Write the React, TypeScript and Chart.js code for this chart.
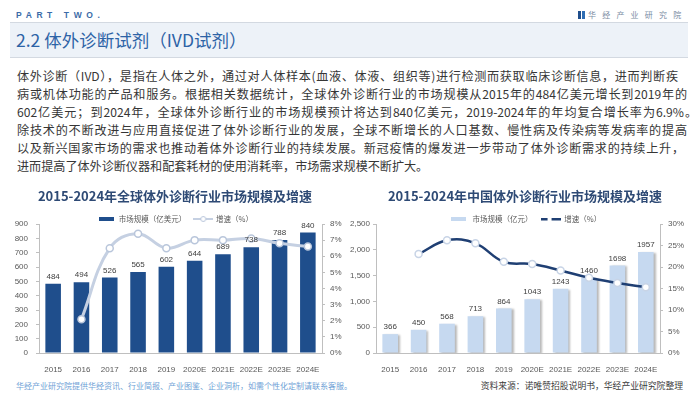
import React, { useEffect, useRef } from "react";
import { Chart, registerables } from "chart.js";

Chart.register(...registerables);

// ---------- data ----------
const categories = ["2015", "2016", "2017", "2018", "2019", "2020E", "2021E", "2022E", "2023E", "2024E"];
const globalMarket = [484, 494, 526, 565, 602, 644, 689, 738, 788, 840];
const globalGrowth = [null, 2.1, 6.5, 7.4, 6.5, 7.0, 7.0, 7.1, 6.8, 6.6];
const chinaMarket = [366, 450, 568, 713, 864, 1043, 1243, 1460, 1698, 1957];
const chinaGrowth = [null, 23.0, 26.2, 25.5, 21.2, 20.7, 19.2, 17.5, 16.3, 15.3];

const globalTitle = "2015-2024年全球体外诊断行业市场规模及增速";
const chinaTitle = "2015-2024年中国体外诊断行业市场规模及增速";
const globalLegend = ["市场规模（亿美元）", "增速（%）"];
const chinaLegend = ["市场规模（亿元）", "增速（%）"];

const paragraphLines = [
  "体外诊断（IVD），是指在人体之外，通过对人体样本(血液、体液、组织等)进行检测而获取临床诊断信息，进而判断疾",
  "病或机体功能的产品和服务。根据相关数据统计，全球体外诊断行业的市场规模从2015年的484亿美元增长到2019年的",
  "602亿美元；到2024年，全球体外诊断行业的市场规模预计将达到840亿美元，2019-2024年的年均复合增长率为6.9%。",
  "除技术的不断改进与应用直接促进了体外诊断行业的发展，全球不断增长的人口基数、慢性病及传染病等发病率的提高",
  "以及新兴国家市场的需求也推动着体外诊断行业的持续发展。新冠疫情的爆发进一步带动了体外诊断需求的持续上升，",
  "进而提高了体外诊断仪器和配套耗材的使用消耗率，市场需求规模不断扩大。",
];
const lineWidths = [661, 670, 680, 670, 667, 0];

const CJK = '"Noto Sans CJK SC", "Noto Sans", sans-serif';
const LAT = '"Liberation Sans", Arial, sans-serif';

const DARK_BAR = "#1f4e8c";
const LIGHT_BAR = "#c6d9f0";
const LIGHT_LINE = "#c5d0e2";
const DARK_LINE = "#1f3f73";

function swatch(w: number, h: number, draw: (c: CanvasRenderingContext2D) => void) {
  const c = document.createElement("canvas");
  c.width = w;
  c.height = h;
  const ctx = c.getContext("2d")!;
  draw(ctx);
  return c;
}

const barLabels = {
  id: "barLabels",
  afterDatasetsDraw(chart: any) {
    const ctx = chart.ctx;
    const meta = chart.getDatasetMeta(0);
    const data = chart.data.datasets[0].data;
    ctx.save();
    ctx.font = `8px ${LAT}`;
    ctx.fillStyle = "#404040";
    ctx.textAlign = "center";
    ctx.textBaseline = "middle";
    meta.data.forEach((el: any, i: number) => {
      ctx.fillText(String(data[i]), el.x, el.y - 7);
    });
    ctx.restore();
  },
};

const barShadow = {
  id: "barShadow",
  beforeDatasetDraw(chart: any, args: any) {
    if (args.index === 0) {
      const c = chart.ctx;
      c.save();
      c.shadowColor = "rgba(0,0,0,0.28)";
      c.shadowOffsetX = 2;
      c.shadowOffsetY = 1;
      c.shadowBlur = 2;
    }
  },
  afterDatasetDraw(chart: any, args: any) {
    if (args.index === 0) chart.ctx.restore();
  },
};

function axisCommon(width: number, tickLen: number, pad: number) {
  return {
    grid: { drawOnChartArea: false, drawTicks: true, tickLength: tickLen, color: "#bfbfbf" },
    border: { display: true, color: "#bfbfbf" },
    afterFit: (s: any) => {
      s.width = width;
    },
    ticks: { font: { family: LAT, size: 8 }, color: "#595959", padding: pad },
  };
}

function makeChart(
  canvas: HTMLCanvasElement,
  cfg: {
    title: string;
    legend: string[];
    bars: number[];
    growth: (number | null)[];
    barColor: string;
    lineColor: string;
    lineWidth: number;
    pointBorder: string;
    legendLine: HTMLCanvasElement;
    legendBar: HTMLCanvasElement;
    legendBoxWidth: number;
    yMax: number;
    yStep: number;
    y1Max: number;
    y1Step: number;
    leftW: number;
    rightW: number;
    leftTick: [number, number];
    rightTick: [number, number];
    extraPlugins: any[];
  }
) {
  const yC = axisCommon(cfg.leftW, cfg.leftTick[0], cfg.leftTick[1]);
  const y1C = axisCommon(cfg.rightW, cfg.rightTick[0], cfg.rightTick[1]);
  return new Chart(canvas, {
    type: "bar",
    data: {
      labels: categories,
      datasets: [
        {
          type: "bar",
          label: cfg.legend[0],
          data: cfg.bars,
          backgroundColor: cfg.barColor,
          yAxisID: "y",
          order: 2,
          barPercentage: 0.55,
          categoryPercentage: 1,
        },
        {
          type: "line",
          label: cfg.legend[1],
          data: cfg.growth,
          borderColor: cfg.lineColor,
          borderWidth: cfg.lineWidth,
          tension: 0.4,
          pointRadius: 3.5,
          pointBackgroundColor: "#ffffff",
          pointBorderColor: cfg.pointBorder,
          pointBorderWidth: 1.5,
          yAxisID: "y1",
          order: 1,
        } as any,
      ],
    },
    options: {
      responsive: false,
      animation: false,
      layout: { padding: 0 },
      plugins: {
        title: {
          display: true,
          text: cfg.title,
          font: { family: CJK, size: 13, weight: "bold" },
          color: "#2e4a75",
          padding: { top: 3.2, bottom: 3.45 },
        },
        legend: {
          maxHeight: 16.75,
          labels: {
            usePointStyle: true,
            pointStyleWidth: cfg.legendBoxWidth,
            padding: 8,
            font: { family: CJK, size: 7.5 },
            color: "#595959",
            generateLabels: () => [
              {
                text: cfg.legend[0],
                pointStyle: cfg.legendBar,
                fillStyle: "transparent",
                strokeStyle: "transparent",
                lineWidth: 0,
                hidden: false,
                datasetIndex: 0,
                fontColor: "#595959",
              },
              {
                text: cfg.legend[1],
                pointStyle: cfg.legendLine,
                fillStyle: "transparent",
                strokeStyle: "transparent",
                lineWidth: 0,
                hidden: false,
                datasetIndex: 1,
                fontColor: "#595959",
              },
            ],
          },
        } as any,
        tooltip: { enabled: false },
      },
      scales: {
        x: {
          grid: { display: false },
          border: { display: true, color: "#bfbfbf" },
          ticks: {
            font: { family: LAT, size: 8 },
            color: "#595959",
            padding: 4,
            maxRotation: 0,
            autoSkip: false,
          },
          afterFit: (s: any) => {
            s.height = 22;
          },
        },
        y: {
          position: "left",
          min: 0,
          max: cfg.yMax,
          ...yC,
          ticks: { ...yC.ticks, stepSize: cfg.yStep },
        },
        y1: {
          position: "right",
          min: 0,
          max: cfg.y1Max,
          ...y1C,
          ticks: { ...y1C.ticks, stepSize: cfg.y1Step, callback: (v: any) => v + "%" },
        },
      } as any,
    },
    plugins: [barLabels, ...cfg.extraPlugins],
  } as any);
}

export default function App() {
  const leftRef = useRef<HTMLCanvasElement>(null);
  const rightRef = useRef<HTMLCanvasElement>(null);

  useEffect(() => {
    document.body.style.margin = "0";
    const leftBar = swatch(15, 4, (c) => {
      c.fillStyle = DARK_BAR;
      c.fillRect(0, 0, 15, 4);
    });
    const leftLine = swatch(20, 8, (c) => {
      c.strokeStyle = LIGHT_LINE;
      c.lineWidth = 2;
      c.beginPath();
      c.moveTo(0, 4);
      c.lineTo(20, 4);
      c.stroke();
      c.fillStyle = "#fff";
      c.strokeStyle = "#b9c6db";
      c.lineWidth = 1;
      c.beginPath();
      c.arc(10, 4, 2.5, 0, Math.PI * 2);
      c.fill();
      c.stroke();
    });
    const rightBar = swatch(15, 4, (c) => {
      c.fillStyle = LIGHT_BAR;
      c.fillRect(0, 0, 15, 4);
    });
    const rightLine = swatch(20, 4, (c) => {
      c.fillStyle = DARK_LINE;
      c.fillRect(0, 1, 7, 2.5);
      c.fillRect(11, 1, 9, 2.5);
    });

    const a = makeChart(leftRef.current!, {
      title: globalTitle,
      legend: globalLegend,
      bars: globalMarket,
      growth: globalGrowth,
      barColor: DARK_BAR,
      lineColor: LIGHT_LINE,
      lineWidth: 3,
      pointBorder: "#b9c6db",
      legendLine: leftLine,
      legendBar: leftBar,
      legendBoxWidth: 18,
      yMax: 900,
      yStep: 100,
      y1Max: 8,
      y1Step: 1,
      leftW: 39,
      rightW: 28,
      leftTick: [3, 8],
      rightTick: [3, 5],
      extraPlugins: [],
    });
    const b = makeChart(rightRef.current!, {
      title: chinaTitle,
      legend: chinaLegend,
      bars: chinaMarket,
      growth: chinaGrowth,
      barColor: LIGHT_BAR,
      lineColor: DARK_LINE,
      lineWidth: 2.5,
      pointBorder: "#c8d4e6",
      legendLine: rightLine,
      legendBar: rightBar,
      legendBoxWidth: 20,
      yMax: 2500,
      yStep: 500,
      y1Max: 30,
      y1Step: 5,
      leftW: 26,
      rightW: 40,
      leftTick: [3, 3],
      rightTick: [3, 5],
      extraPlugins: [barShadow],
    });
    return () => {
      a.destroy();
      b.destroy();
    };
  }, []);

  return (
    <div
      style={{
        position: "absolute",
        left: 0,
        top: 0,
        width: 700,
        height: 394,
        background: "#ffffff",
        overflow: "hidden",
        fontFamily: CJK,
      }}
    >
      {/* header */}
      <div
        style={{
          position: "absolute",
          left: 16,
          top: 9,
          height: 12,
          lineHeight: "12px",
          fontFamily: LAT,
          fontWeight: "bold",
          fontSize: 8.5,
          letterSpacing: 4.6,
          color: "#3b6ba8",
        }}
      >
        PART TWO.
      </div>
      <div style={{ position: "absolute", left: 578, top: 11, width: 3, height: 8, background: "#1f4e8c" }} />
      <div style={{ position: "absolute", left: 582, top: 11, width: 3, height: 8, background: "#2f6db3" }} />
      <div
        style={{
          position: "absolute",
          left: 588,
          top: 9,
          height: 12,
          lineHeight: "12px",
          fontSize: 8,
          letterSpacing: 6.2,
          color: "#7a8ca3",
          whiteSpace: "nowrap",
        }}
      >
        华经产业研究院
      </div>
      <div
        style={{
          position: "absolute",
          left: 10,
          top: 22,
          width: 678,
          height: 34,
          background: "#edf2f8",
          borderTop: "1px solid #d3d9e1",
          borderBottom: "1px solid #d3d9e1",
        }}
      />
      <div
        style={{
          position: "absolute",
          left: 16,
          top: 28,
          height: 24,
          lineHeight: "24px",
          fontSize: 17.5,
          color: "#2d63a6",
          whiteSpace: "nowrap",
        }}
      >
        2.2 体外诊断试剂（IVD试剂）
      </div>

      {/* paragraph */}
      {paragraphLines.map((t, i) => (
        <div
          key={i}
          style={{
            position: "absolute",
            left: 17,
            top: 67 + i * 18,
            width: lineWidths[i] || undefined,
            height: 18,
            lineHeight: "18px",
            fontSize: 12.1,
            color: "#363636",
            whiteSpace: "nowrap",
            textAlign: lineWidths[i] ? "justify" : "left",
            textAlignLast: lineWidths[i] ? "justify" : "left",
          } as any}
        >
          {t}
        </div>
      ))}

      {/* charts */}
      <canvas
        ref={leftRef}
        width={350}
        height={190}
        style={{ position: "absolute", left: 0, top: 185, width: 350, height: 190 }}
      />
      <canvas
        ref={rightRef}
        width={350}
        height={190}
        style={{ position: "absolute", left: 350, top: 185, width: 350, height: 190 }}
      />

      {/* footer */}
      <div
        style={{
          position: "absolute",
          left: 16,
          top: 380,
          height: 12,
          lineHeight: "12px",
          fontSize: 8,
          color: "#6f9fd6",
          whiteSpace: "nowrap",
        }}
      >
        华经产业研究院提供华经资讯、行业简报、产业图鉴、企业洞析，如需个性化定制请联系客服。
      </div>
      <div
        style={{
          position: "absolute",
          right: 17,
          top: 380,
          height: 12,
          lineHeight: "12px",
          fontSize: 8.8,
          color: "#3c3c3c",
          whiteSpace: "nowrap",
        }}
      >
        资料来源：诺唯赞招股说明书，华经产业研究院整理
      </div>
    </div>
  );
}
